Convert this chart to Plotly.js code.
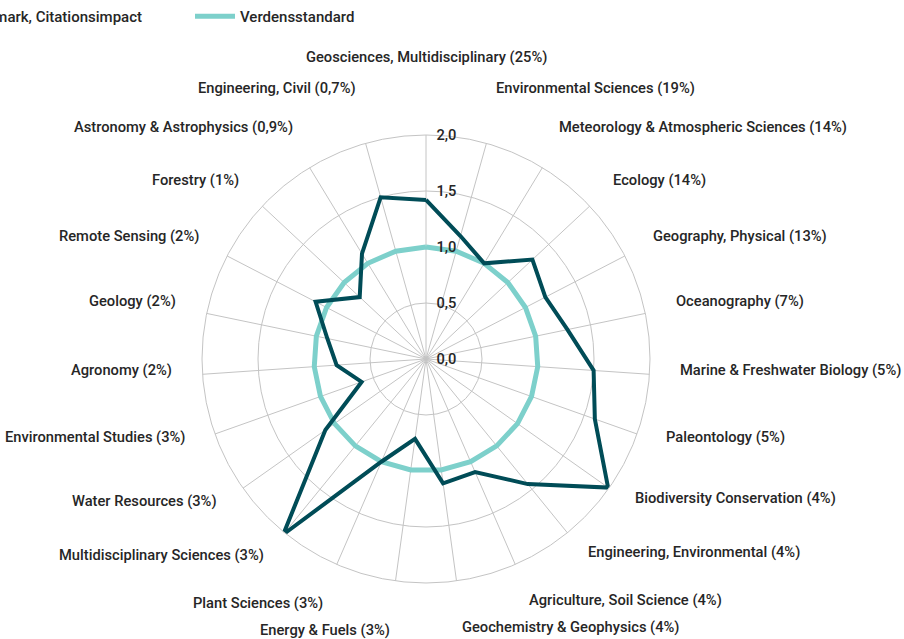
<!DOCTYPE html>
<html><head><meta charset="utf-8">
<script src="https://cdn.plot.ly/plotly-3.0.1.min.js"></script>
<style>html,body{margin:0;padding:0;background:#fff}#chart{width:904px;height:639px}</style>
</head><body><div id="chart"></div>
<script>
const categories = [
  "Geosciences, Multidisciplinary (25%)",
  "Environmental Sciences (19%)",
  "Meteorology & Atmospheric Sciences (14%)",
  "Ecology (14%)",
  "Geography, Physical (13%)",
  "Oceanography (7%)",
  "Marine & Freshwater Biology (5%)",
  "Paleontology (5%)",
  "Biodiversity Conservation (4%)",
  "Engineering, Environmental (4%)",
  "Agriculture, Soil Science (4%)",
  "Geochemistry & Geophysics (4%)",
  "Energy & Fuels (3%)",
  "Plant Sciences (3%)",
  "Multidisciplinary Sciences (3%)",
  "Water Resources (3%)",
  "Environmental Studies (3%)",
  "Agronomy (2%)",
  "Geology (2%)",
  "Remote Sensing (2%)",
  "Forestry (1%)",
  "Astronomy & Astrophysics (0,9%)",
  "Engineering, Civil (0,7%)"
];
const denmark = [1.42, 1.14, 1.00, 1.30, 1.20, 1.29, 1.50, 1.60, 1.99, 1.44, 1.10, 1.12, 0.72,
                 1.00, 2.02, 1.10, 0.61, 0.80, 0.90, 1.11, 0.81, 1.10, 1.50];
const world = [1, 1, 1, 1, 1, 1, 1, 1, 1, 1, 1, 1, 1, 1, 1, 1, 1, 1, 1, 1, 1, 1, 1];
const seriesNames = ["Denmark, Citationsimpact", "Verdensstandard"];
const radialTicks = [0, 0.5, 1, 1.5, 2];

const W = 904, H = 639;
const cx = 426, cy = 359, R = 224;
const FONT = "Roboto, 'Open Sans', sans-serif";
const TXT = "#262626";
const GRID = "#c4c4c4";
const LBL = 14.7, LEG = 15;

function closed(a){ return a.concat([a[0]]); }
function textWidth(t, size){
  const c = document.createElement("canvas").getContext("2d");
  c.font = "500 " + size + "px Roboto";
  return c.measureText(t).width;
}

const traces = [
  {
    type: "scatterpolar", mode: "lines", name: seriesNames[1],
    theta: closed(categories), r: closed(world), cliponaxis: false,
    line: {color: "#7dd0cb", width: 5}, legend: "legend2", hoverinfo: "skip"
  },
  {
    type: "scatterpolar", mode: "lines", name: seriesNames[0],
    theta: closed(categories), r: closed(denmark), cliponaxis: false,
    line: {color: "#004c57", width: 4}, legend: "legend", hoverinfo: "skip"
  }
];

// category labels placed around the circle
const n = categories.length;
const pad = 29;
const annotations = categories.map((c, i) => {
  const a = i * 2 * Math.PI / n;
  const s = Math.sin(a), co = Math.cos(a);
  const x = cx + s * (R + pad);
  let e = 25 * Math.pow(Math.max(0, (Math.abs(co) - 0.7) / 0.3), 1.5);
  let xanchor = "center";
  if (s > 0.05) xanchor = "left"; else if (s < -0.05) xanchor = "right";
  if (xanchor === "center") e += 17;
  if (co < -0.5 && s < 0) e += 3;
  const y = cy - co * (R + pad) - 6.5 - Math.sign(co) * e;
  return {
    text: c, xref: "paper", yref: "paper",
    x: x / W, y: 1 - y / H, xanchor: xanchor, yanchor: "middle",
    showarrow: false, font: {family: FONT, size: LBL, color: TXT, weight: 500}
  };
});

// legend placement: first entry text ends at ~142px, second symbol starts at ~195px
const w1 = textWidth(seriesNames[0], LEG);
const leg1x = 142 - w1 - 50;
const leg2x = 190;

const legendCommon = {
  orientation: "h", yanchor: "top", xanchor: "left", y: 1,
  font: {family: FONT, size: LEG, color: TXT, weight: 500},
  bgcolor: "rgba(0,0,0,0)", itemwidth: 40
};

const layout = {
  width: W, height: H,
  margin: {l: 0, r: 0, t: 0, b: 0, autoexpand: false},
  paper_bgcolor: "#fff",
  separators: ",.",
  font: {family: FONT, size: 14, color: TXT},
  showlegend: true,
  legend: Object.assign({}, legendCommon, {x: leg1x / W}),
  legend2: Object.assign({}, legendCommon, {x: leg2x / W}),
  polar: {
    domain: {x: [(cx - R) / W, (cx + R) / W], y: [(H - cy - R) / H, (H - cy + R) / H]},
    bgcolor: "#fff",
    radialaxis: {
      range: [0, 2], tickvals: radialTicks, tickformat: ".1f", angle: 90, tickangle: 90,
      showline: false, ticks: "outside", ticklen: 7, tickcolor: "rgba(0,0,0,0)",
      gridcolor: GRID, gridwidth: 1,
      tickfont: {family: FONT, size: LBL, color: TXT, weight: 500}
    },
    angularaxis: {
      rotation: 90, direction: "clockwise", showticklabels: false, ticks: "",
      gridcolor: GRID, gridwidth: 1, showline: true, linecolor: GRID, linewidth: 1
    }
  },
  annotations: annotations
};

Plotly.newPlot("chart", traces, layout, {displayModeBar: false, staticPlot: true});
</script>
</body></html>
